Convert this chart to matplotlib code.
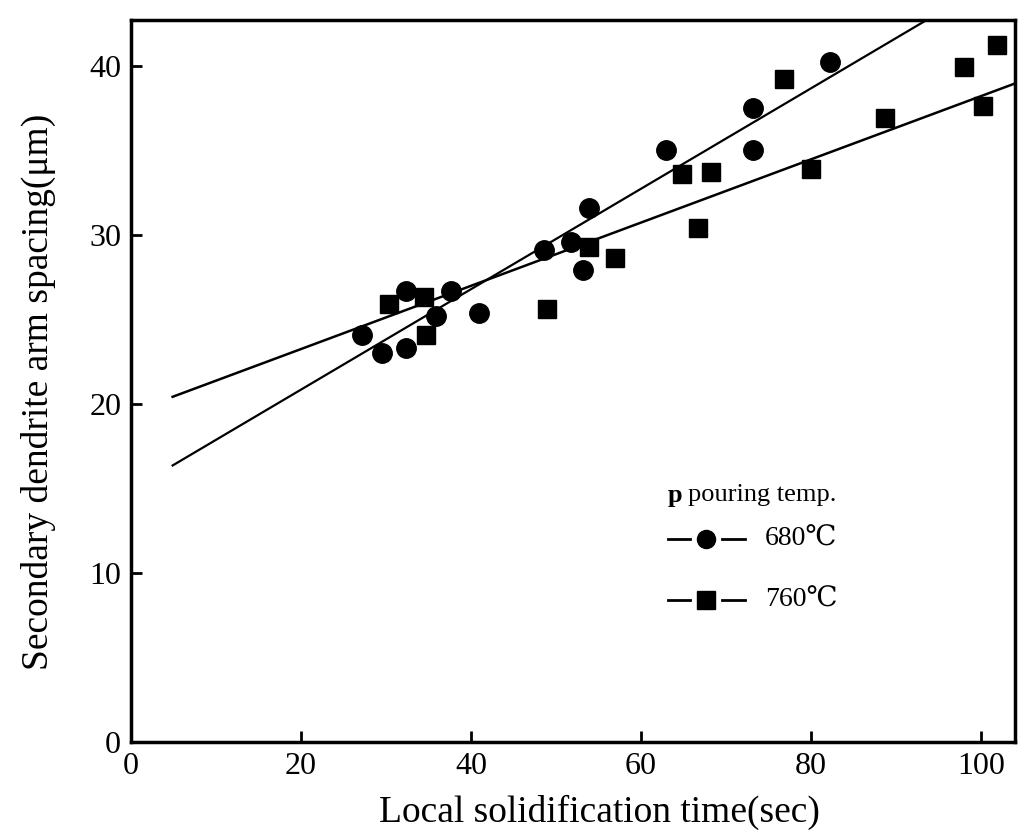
import matplotlib.pyplot as plt
import numpy as np

plt.rcParams["font.family"] = ["Liberation Serif", "DejaVu Serif"]

# 680 C pouring temperature
t_680 = np.array([27.2, 29.5, 32.4, 32.4, 35.9, 37.6, 41.0, 48.6, 51.8, 53.2,
                  53.9, 62.9, 73.2, 73.2, 82.2])  # sec
d_680 = np.array([24.1, 23.0, 26.7, 23.3, 25.2, 26.7, 25.4, 29.1, 29.6, 27.9,
                  31.6, 35.0, 37.5, 35.0, 40.2])  # um

# 760 C pouring temperature
t_760 = np.array([30.4, 34.5, 34.7, 48.9, 53.9, 56.9, 64.8, 66.7, 68.2, 76.8,
                  80.0, 88.7, 98.0, 100.2, 101.9])  # sec
d_760 = np.array([25.9, 26.3, 24.1, 25.6, 29.3, 28.6, 33.6, 30.4, 33.7, 39.2,
                  33.9, 36.9, 39.9, 37.6, 41.2])  # um

# straight-line fits: spacing = a * t + b
fit_680 = [0.297, 14.9]
fit_760 = [0.187, 19.5]

xticks = [0, 20, 40, 60, 80, 100]
yticks = [0, 10, 20, 30, 40]

fig = plt.figure(figsize=(10.2, 8.31), dpi=100)
ax = fig.add_axes([0.1284, 0.1071, 0.8667, 0.8688])

x = np.linspace(4.9, 104, 200)
ax.plot(x, fit_680[0] * x + fit_680[1], color="black", lw=1.6)
ax.plot(x, fit_760[0] * x + fit_760[1], color="black", lw=1.8)

ax.plot(t_680, d_680, "o", color="black", ms=14, clip_on=False)
ax.plot(t_760, d_760, "s", color="black", ms=13, clip_on=False)

ax.set_xlim(0, 104)
ax.set_ylim(0, 42.7)
ax.set_xticks(xticks)
ax.set_yticks(yticks)
ax.tick_params(direction="in", length=8, width=2, labelsize=23, pad=7)
for s in ax.spines.values():
    s.set_linewidth(2.5)

ax.set_xlabel("Local solidification time(sec)", fontsize=27)
ax.set_ylabel("Secondary dendrite arm spacing(μm)", fontsize=27)
ax.xaxis.set_label_coords(0.53, -0.073)
ax.yaxis.set_label_coords(-0.085, 0.485)

# hand-drawn style key
ax.text(0.607, 0.342, "p", transform=ax.transAxes, fontsize=19,
        fontweight="bold", va="center")
ax.text(0.630, 0.342, "pouring temp.", transform=ax.transAxes, fontsize=19,
        va="center")
for yk, mk, lab in [(0.281, "o", "680℃"), (0.197, "s", "760℃")]:
    ax.plot([0.607, 0.632], [yk, yk], color="black", lw=2, transform=ax.transAxes)
    ax.plot([0.669, 0.695], [yk, yk], color="black", lw=2, transform=ax.transAxes)
    ax.plot([0.650], [yk], mk, color="black", ms=13, transform=ax.transAxes)
    ax.text(0.717, yk, lab, transform=ax.transAxes, fontsize=20, va="center")

fig.savefig("out.png", dpi=100)
